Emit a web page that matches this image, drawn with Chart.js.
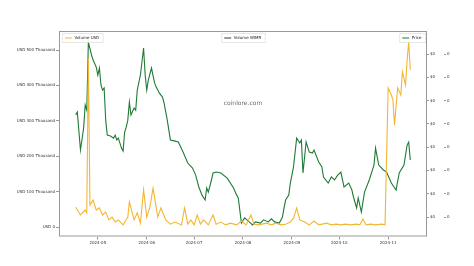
<!DOCTYPE html>
<html><head><meta charset="utf-8">
<script src="https://cdn.jsdelivr.net/npm/chart.js@4.4.1/dist/chart.umd.min.js"></script>
<style>html,body{margin:0;padding:0;background:#fff}#wrap{width:474px;height:266px}</style>
</head><body><div id="wrap"><canvas id="c" width="474" height="266"></canvas></div>
<script>
// x values are day-of-year 2024 (108 = 2024-04-17, 320 = 2024-11-15)
const X_TICK_DAYS=[122,153,183,214,245,275,306];
const X_TICK_LABELS=['2024-05','2024-06','2024-07','2024-08','2024-09','2024-10','2024-11'];
const USD_TICKS=[0,100000,200000,300000,400000,500000];
const PRICE_TICKS=[1e-6,2e-6,3e-6,4e-6,5e-6,6e-6,7e-6,8e-6];

const VOL_DAYS=[108,111,114,115,116,117,119,121,123,125,127,129,131,133,135,138,141,142,145,147,149,151,153,155,157,160,162,165,168,171,175,177,179,181,183,185,187,189,192,195,197,200,203,206,210,213,216,219,221,224,229,232,235,238,241,244,246,248,250,253,256,259,262,267,270,273,276,279,282,286,288,290,292,295,298,302,304,306,308,309,310,312,314,315,317,318,319,320];
const VOL_USD=[56000,34000,48000,40000,477000,62000,76000,48000,54000,34000,42000,20000,28000,14000,20000,6000,28000,71000,20000,40000,11000,105000,28000,56000,110000,28000,54000,20000,8000,14000,6000,54000,8000,20000,6000,34000,8000,20000,6000,34000,8000,14000,6000,11000,6000,17000,6000,34000,8000,6000,11000,6000,11000,6000,8000,14000,25000,54000,20000,14000,6000,17000,6000,11000,6000,8000,6000,8000,6000,8000,6000,23000,6000,8000,6000,8000,6000,393000,373000,359000,288000,393000,373000,438000,401000,472000,523000,444000];

const PRICE_DAYS=[108,109,111,113,114,115,116,118,119,121,122,123,124,125,126,127,128,130,132,133,134,135,137,138,139,140,141,142,143,145,146,147,149,151,152,153,154,156,158,159,161,163,164,166,168,171,173,176,179,182,184,186,188,190,191,192,194,195,197,200,204,208,210,211,213,215,218,220,222,225,227,230,232,234,237,239,240,241,243,244,246,248,250,251,252,254,256,258,259,262,264,265,268,270,272,274,276,278,281,283,284,286,287,289,291,294,297,298,300,303,305,308,311,313,316,318,319,320];
const PRICE=[5.38e-6,5.51e-6,3.88e-6,4.82e-6,5.81e-6,5.59e-6,8.51e-6,7.96e-6,7.74e-6,7.44e-6,7.10e-6,7.40e-6,6.67e-6,6.45e-6,6.54e-6,5.16e-6,4.52e-6,4.48e-6,4.39e-6,4.52e-6,4.31e-6,4.39e-6,3.96e-6,3.83e-6,4.65e-6,4.86e-6,5.16e-6,5.94e-6,5.38e-6,5.68e-6,5.59e-6,6.45e-6,7.10e-6,8.26e-6,7.10e-6,6.45e-6,6.88e-6,7.40e-6,6.75e-6,6.58e-6,6.32e-6,6.15e-6,5.89e-6,5.16e-6,4.31e-6,4.26e-6,4.22e-6,3.79e-6,3.32e-6,3.10e-6,2.80e-6,2.29e-6,1.94e-6,1.73e-6,2.25e-6,2.07e-6,2.59e-6,2.89e-6,2.93e-6,2.89e-6,2.67e-6,2.25e-6,1.94e-6,1.82e-6,0.74e-6,0.96e-6,0.79e-6,0.66e-6,0.79e-6,0.74e-6,0.88e-6,0.79e-6,0.92e-6,0.79e-6,0.74e-6,1.00e-6,1.39e-6,1.73e-6,1.94e-6,2.46e-6,3.15e-6,4.39e-6,4.18e-6,4.31e-6,2.89e-6,4.22e-6,3.79e-6,3.75e-6,3.88e-6,3.36e-6,3.15e-6,2.72e-6,2.46e-6,2.72e-6,2.59e-6,2.80e-6,2.93e-6,2.29e-6,2.46e-6,2.16e-6,1.86e-6,1.39e-6,1.82e-6,1.21e-6,2.07e-6,2.59e-6,3.23e-6,3.96e-6,3.23e-6,3.02e-6,2.93e-6,2.46e-6,2.16e-6,2.89e-6,3.23e-6,4.09e-6,4.22e-6,3.45e-6];
const VOL_WIMR=[];

const FONT='"DejaVu Sans"';
const pts=(xs,ys)=>xs.map((x,i)=>({x,y:ys[i]}));
const setTicks=vals=>sc=>{sc.ticks=vals.map(v=>({value:v}));};
const tickGrid={drawOnChartArea:false,drawTicks:true,tickLength:3,color:'#555',lineWidth:0.6};
const tickFont={family:FONT,size:4};

const deco={id:'deco',
  beforeDatasetsDraw(ch){
    const a=ch.chartArea,ctx=ch.ctx; ctx.save();
    ctx.font='6px '+FONT; ctx.fillStyle='#6f6f6f'; ctx.textAlign='center'; ctx.textBaseline='middle';
    ctx.fillText('coinlore.com',(a.left+a.right)/2,103);
    ctx.restore();
  },
  afterDraw(ch){
    const a=ch.chartArea,ctx=ch.ctx; ctx.save();
    ctx.strokeStyle='#999'; ctx.lineWidth=1;
    ctx.strokeRect(a.left+0.5,a.top+0.5,a.right-a.left-1,a.bottom-a.top-1);
    const ds=ch.data.datasets;
    const box=(x,y,color,text,align)=>{
      ctx.font='4px '+FONT; const tw=ctx.measureText(text).width; const w=tw+16,h=9;
      const bx=align==='left'?x:align==='center'?x-w/2:x-w;
      ctx.fillStyle='rgba(255,255,255,0.85)'; ctx.strokeStyle='#ddd'; ctx.lineWidth=0.7;
      ctx.beginPath(); ctx.rect(bx+0.5,y+0.5,w,h); ctx.fill(); ctx.stroke();
      ctx.strokeStyle=color; ctx.lineWidth=1; ctx.beginPath();
      ctx.moveTo(bx+3,y+h/2+0.5); ctx.lineTo(bx+10,y+h/2+0.5); ctx.stroke();
      ctx.fillStyle='#222'; ctx.textAlign='left'; ctx.textBaseline='middle';
      ctx.fillText(text,bx+12.5,y+h/2+0.5);
    };
    box(a.left+3,a.top+2,ds[0].borderColor,ds[0].label,'left');
    box((a.left+a.right)/2,a.top+2,ds[2].borderColor,ds[2].label,'center');
    box(a.right-2,a.top+2,ds[1].borderColor,ds[1].label,'right');
    ctx.restore();
  }
};

new Chart(document.getElementById('c'),{
  type:'line',
  data:{datasets:[
    {label:'Volume USD',data:pts(VOL_DAYS,VOL_USD),yAxisID:'y',borderColor:'#f3b633',borderWidth:1.1,pointRadius:0,tension:0},
    {label:'Price',data:pts(PRICE_DAYS,PRICE),yAxisID:'yP',borderColor:'#1f7a36',borderWidth:1.1,pointRadius:0,tension:0},
    {label:'Volume WIMR',data:VOL_WIMR,yAxisID:'yW',borderColor:'#3a3a3a',borderWidth:1,pointRadius:0}
  ]},
  options:{
    responsive:false,animation:false,devicePixelRatio:1,
    layout:{padding:{top:31,left:0,right:0,bottom:0}},
    plugins:{legend:{display:false},tooltip:{enabled:false}},
    scales:{
      x:{type:'linear',min:97.4,max:330.6,afterBuildTicks:setTicks(X_TICK_DAYS),
        afterFit:s=>{s.height=29.5;},
        grid:tickGrid,border:{display:false},
        ticks:{font:tickFont,color:'#333',padding:1,maxRotation:0,autoSkip:false,
          callback:(v)=>X_TICK_LABELS[X_TICK_DAYS.indexOf(v)]}},
      y:{position:'left',min:-26800,max:553700,afterBuildTicks:setTicks(USD_TICKS),
        afterFit:s=>{s.width=59;},
        grid:tickGrid,border:{display:false},
        ticks:{font:tickFont,color:'#333',padding:1,
          callback:v=>v===0?'USD 0':'USD '+(v/1000)+' Thousand'}},
      yP:{position:'right',weight:0,min:0.163e-6,max:8.99e-6,afterBuildTicks:setTicks(PRICE_TICKS),
        afterFit:s=>{s.width=17;},
        grid:Object.assign({},tickGrid,{tickLength:2}),border:{display:false},
        ticks:{font:tickFont,color:'#333',padding:1,callback:v=>'$'+Math.round(v)}},
      yW:{position:'right',weight:1,min:0.163e-6,max:8.99e-6,afterBuildTicks:setTicks(PRICE_TICKS),
        afterFit:s=>{s.width=30;},
        grid:Object.assign({},tickGrid,{tickLength:2}),border:{display:false},
        ticks:{font:tickFont,color:'#333',padding:1,callback:v=>String(Math.round(v))}}
    }
  },
  plugins:[deco]
});
</script></body></html>
